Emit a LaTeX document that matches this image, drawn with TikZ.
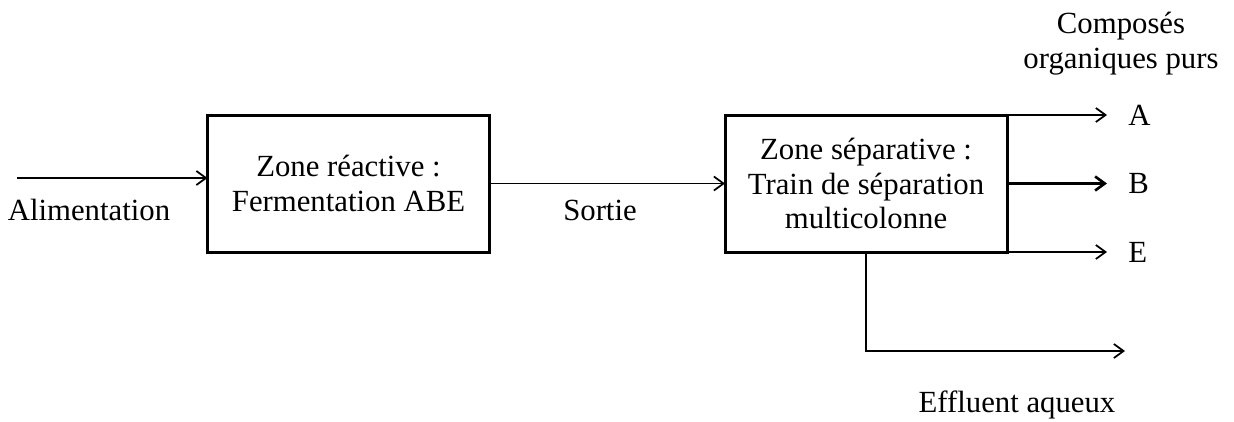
\documentclass[tikz,border=0pt]{standalone}
\usepackage{fontspec}
\setmainfont{Liberation Serif}
\usetikzlibrary{calc,arrows.meta}

\begin{document}
\begin{tikzpicture}[
  font=\fontsize{17.5}{19.5}\selectfont,
  zone/.style={draw, line width=1.7pt, minimum width=5.64cm, minimum height=2.74cm, align=center, inner sep=0pt, outer sep=0pt},
  flow/.style={-{Straight Barb[length=5.5pt,width=8pt]}, line width=1pt},
  tag/.style={inner sep=0pt}
]
\useasboundingbox (0,0) rectangle (24.68,-8.42);

% Blocks
\node[zone] (reac) at (6.97,-3.67) {Zone réactive :\\Fermentation ABE};
\node[zone] (sep) at (17.32,-3.67) {Zone séparative :\\Train de séparation\\multicolonne};

% Feed and intermediate stream
\coordinate (feed) at (0.34,-3.56);
\draw[flow] (feed) -- (feed -| reac.west);
\draw[flow] (reac.east) -- (sep.west);
\node[tag, anchor=base] (alim) at (1.78,-4.40) {Alimentation};
\node[tag, anchor=base] (sortie) at (12.0,-4.40) {Sortie};

% Pure products
\node[tag, align=center, anchor=north] (purs) at (22.42,-0.24) {Composés\\organiques purs};
\node[tag, anchor=west] (A) at ([xshift=2.42cm]sep.north east) {A};
\node[tag, anchor=west] (B) at ([xshift=2.42cm]sep.east) {B};
\node[tag, anchor=west] (E) at ([xshift=2.42cm]sep.south east) {E};
\draw[flow, shorten >=0.42cm] (sep.north east) -- (A.west);
\draw[flow, line width=1.5pt, shorten >=0.42cm] (sep.east) -- (B.west);
\draw[flow, shorten >=0.42cm] (sep.south east) -- (E.west);

% Aqueous effluent
\coordinate (effend) at (22.5,-7.02);
\draw[flow] (sep.south) |- (effend);
\node[tag, anchor=base] (eff) at (20.34,-8.24) {Effluent aqueux};

\end{tikzpicture}
\end{document}
